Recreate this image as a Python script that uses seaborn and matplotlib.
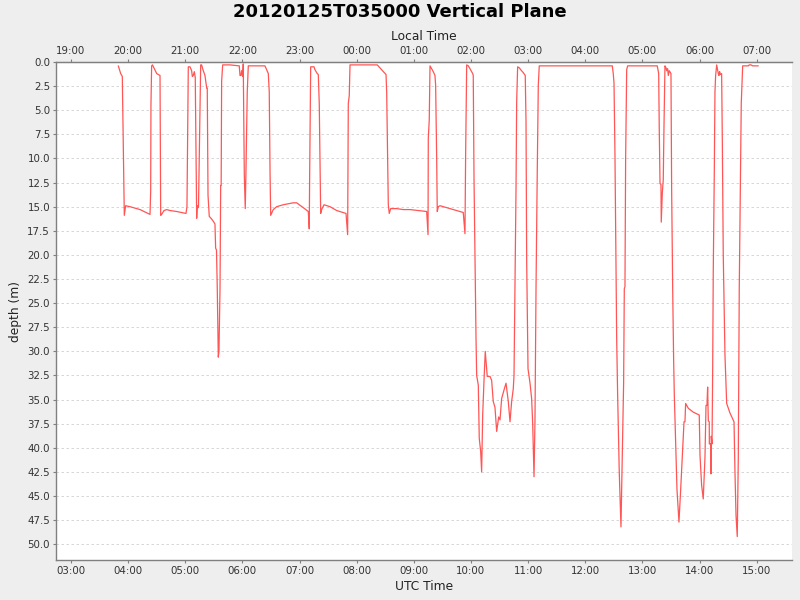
import numpy as np
import pandas as pd
import matplotlib
matplotlib.use("Agg")
import matplotlib.pyplot as plt
from matplotlib.ticker import FixedLocator, FuncFormatter
import seaborn as sns

# ---- data: time in minutes after 2012-01-25 00:00 UTC, depth in metres ----
utc_minutes = [
    229.7, 232.2, 233.9, 236.0, 237.4, 242.0, 252.5, 263.0, 263.7, 264.0, 264.7, 265.6,
    267.5, 270.0, 273.5, 274.2, 275.2, 277.7, 280.5, 284.0, 291.0, 300.8, 301.8, 302.1,
    302.9, 303.2, 305.0, 306.7, 307.4, 308.4, 309.5, 310.5, 311.3, 312.0, 312.6, 313.9,
    315.1, 316.2, 317.2, 318.6, 320.7, 322.5, 323.1, 323.9, 325.2, 327.0, 329.4, 331.2,
    331.9, 332.8, 333.6, 334.7, 335.4, 336.5, 337.2, 337.7, 338.2, 339.3, 347.0, 356.7,
    357.5, 358.5, 359.2, 360.3, 360.9, 362.0, 363.0, 363.8, 365.1, 366.2, 383.7, 385.5,
    387.2, 388.2, 389.0, 389.7, 392.4, 396.0, 402.9, 413.4, 417.0, 423.9, 429.2, 430.2,
    430.6, 431.7, 435.2, 436.2, 438.6, 439.7, 440.7, 441.5, 442.2, 443.2, 445.7, 452.0,
    459.0, 468.8, 470.5, 471.2, 472.2, 473.0, 501.6, 506.2, 510.8, 511.5, 512.5, 513.2,
    514.2, 515.7, 522.0, 528.9, 536.0, 553.5, 554.9, 555.2, 556.2, 557.0, 558.7, 560.4,
    562.2, 562.9, 564.0, 564.6, 565.7, 567.5, 578.0, 591.9, 593.7, 594.4, 595.5, 597.2,
    599.0, 601.8, 602.4, 603.2, 604.2, 605.3, 606.0, 607.7, 608.7, 610.2, 611.2, 612.3,
    613.7, 615.0, 616.5, 617.1, 620.0, 621.7, 623.4, 625.2, 627.0, 629.1, 630.5, 632.2,
    634.7, 636.8, 639.2, 641.0, 642.7, 644.4, 645.2, 646.2, 647.3, 648.0, 649.0, 650.7,
    652.2, 654.9, 657.0, 657.8, 658.5, 659.9, 662.0, 663.7, 664.8, 666.2, 667.2, 668.3,
    669.6, 670.7, 671.7, 748.4, 749.4, 750.2, 751.2, 752.3, 753.0, 754.0, 755.7, 757.5,
    758.9, 760.3, 761.0, 761.7, 762.4, 763.5, 764.5, 795.6, 797.1, 797.7, 798.5, 799.5,
    799.8, 800.9, 801.9, 802.7, 803.7, 804.8, 805.5, 806.5, 807.2, 808.2, 810.0, 810.7,
    811.8, 812.8, 813.5, 815.3, 816.3, 818.4, 820.2, 822.3, 823.7, 824.7, 825.4, 828.2,
    833.4, 839.7, 840.5, 842.2, 843.9, 845.7, 846.8, 847.8, 848.5, 849.2, 850.2, 850.3,
    851.7, 852.0, 852.3, 853.1, 853.8, 854.4, 855.5, 856.2, 856.9, 858.0, 859.0, 859.7,
    860.4, 861.1, 861.8, 863.2, 863.9, 864.9, 866.7, 868.5, 870.2, 872.0, 874.8, 876.2,
    877.2, 878.3, 879.6, 880.7, 881.7, 882.8, 883.8, 885.3, 891.2, 892.2, 894.0, 895.8,
    901.7,
]
depth_m = [
    0.4, 1.2, 1.5, 15.9, 14.9, 15.0, 15.3, 15.8, 13.4, 4.4, 0.4, 0.3,
    0.7, 1.2, 1.4, 15.9, 15.8, 15.4, 15.3, 15.4, 15.5, 15.7, 15.0, 12.0,
    3.0, 0.5, 0.5, 0.9, 1.5, 1.4, 1.0, 1.6, 10.0, 16.2, 14.9, 15.1,
    7.2, 0.3, 0.3, 0.8, 1.4, 2.7, 2.7, 13.8, 16.0, 16.2, 16.5, 16.8,
    19.3, 19.5, 23.4, 30.6, 30.0, 23.5, 12.8, 12.8, 2.0, 0.3, 0.3, 0.4,
    1.4, 1.4, 0.9, 1.5, 0.2, 11.7, 15.2, 11.0, 3.1, 0.4, 0.4, 0.8,
    1.2, 3.1, 11.2, 15.9, 15.3, 15.0, 14.8, 14.6, 14.6, 15.1, 15.5, 17.3,
    12.0, 0.5, 0.5, 0.8, 1.2, 1.3, 4.3, 10.0, 15.7, 15.3, 14.8, 15.0,
    15.4, 15.7, 17.9, 4.3, 3.5, 0.3, 0.3, 0.8, 1.3, 3.1, 9.6, 14.8,
    15.7, 15.2, 15.2, 15.3, 15.3, 15.5, 17.9, 7.9, 6.0, 0.4, 0.7, 1.0,
    1.4, 2.4, 10.0, 15.5, 15.0, 14.9, 15.2, 15.6, 17.8, 9.6, 0.3, 0.4,
    0.7, 1.2, 1.4, 12.1, 20.0, 28.7, 32.5, 33.5, 39.0, 40.4, 42.5, 36.6,
    33.0, 30.0, 31.8, 32.6, 32.6, 33.0, 35.2, 35.8, 38.3, 36.8, 37.1, 34.9,
    34.0, 33.3, 35.2, 37.3, 35.2, 33.9, 32.5, 23.5, 13.1, 4.1, 0.5, 0.6,
    0.8, 1.1, 1.4, 6.2, 20.7, 31.8, 33.3, 34.9, 37.5, 43.0, 37.3, 23.5,
    11.4, 2.4, 0.4, 0.4, 1.2, 2.2, 9.6, 20.7, 28.7, 34.5, 42.5, 48.2,
    41.0, 33.2, 23.5, 23.3, 10.0, 0.8, 0.4, 0.4, 1.2, 6.9, 12.6, 12.7,
    16.6, 13.6, 12.2, 6.5, 0.4, 0.6, 0.9, 0.7, 1.4, 0.9, 1.2, 13.1,
    23.5, 30.9, 34.5, 40.8, 44.3, 47.7, 44.3, 40.1, 37.3, 37.3, 35.4, 35.9,
    36.3, 36.6, 40.8, 43.9, 45.3, 41.0, 35.6, 35.6, 33.7, 37.2, 37.3, 39.6,
    39.6, 42.7, 38.8, 39.6, 31.8, 21.8, 11.4, 3.1, 1.4, 0.3, 0.8, 1.2,
    1.4, 1.0, 1.3, 1.2, 7.9, 20.0, 30.4, 35.4, 35.9, 36.4, 37.0, 37.3,
    42.5, 47.0, 49.2, 41.0, 23.5, 13.1, 4.3, 0.4, 0.4, 0.3, 0.3, 0.4,
    0.4,
]

title_text = "20120125T035000 Vertical Plane"
utc_tick_minutes = [180, 240, 300, 360, 420, 480, 540, 600, 660, 720, 780, 840, 900]
local_offset_hours = -8
y_ticks = [0.0, 2.5, 5.0, 7.5, 10.0, 12.5, 15.0, 17.5, 20.0, 22.5, 25.0, 27.5, 30.0,
           32.5, 35.0, 37.5, 40.0, 42.5, 45.0, 47.5, 50.0]

df = pd.DataFrame({"utc_min": utc_minutes, "depth": depth_m})

sns.set_style("white")
plt.rcParams["font.family"] = ["DejaVu Sans"]

bg = "#EEEEEE"
axis_gray = "#808080"
fig = plt.figure(figsize=(8, 6), dpi=100, facecolor=bg)
ax = fig.add_axes([56.3 / 800, 40 / 600, (792.3 - 56.3) / 800, (560 - 62) / 600])
ax.set_facecolor("white")

sns.lineplot(data=df, x="utc_min", y="depth", ax=ax, color="#FF5555",
             linewidth=0.9, estimator=None, sort=False)

ax.set_xlim(164.6, 937.4)
ax.set_ylim(51.63, 0.0)

def utc_fmt(v, pos=None):
    h = int(round(v)) // 60 % 24
    m = int(round(v)) % 60
    return f"{h:02d}:{m:02d}"

def local_fmt(v, pos=None):
    t = int(round(v)) + local_offset_hours * 60
    h = (t // 60) % 24
    m = t % 60
    return f"{h:02d}:{m:02d}"

ax.xaxis.set_major_locator(FixedLocator(utc_tick_minutes))
ax.xaxis.set_major_formatter(FuncFormatter(utc_fmt))
ax.yaxis.set_major_locator(FixedLocator(y_ticks))
ax.yaxis.set_major_formatter(FuncFormatter(lambda v, p: f"{v:.1f}"))

ax.grid(axis="y", color="#D0D0D0", linestyle=(0, (3, 3)), linewidth=0.6)
ax.grid(axis="x", visible=False)

tick_fs = 7.4
label_fs = 8.8
ax.tick_params(axis="both", direction="out", length=2.5, width=0.8, color=axis_gray,
               labelsize=tick_fs, labelcolor="#333333", pad=2, bottom=True, left=True)
ax.set_xlabel("UTC Time", fontsize=label_fs, color="#222222", labelpad=3)
ax.set_ylabel("depth (m)", fontsize=label_fs, color="#222222", labelpad=4)

for side in ["left", "bottom", "top"]:
    ax.spines[side].set_visible(True)
    ax.spines[side].set_color(axis_gray)
    ax.spines[side].set_linewidth(1.0)
ax.spines["right"].set_visible(False)

top = ax.twiny()
top.set_xlim(ax.get_xlim())
top.xaxis.set_major_locator(FixedLocator(utc_tick_minutes))
top.xaxis.set_major_formatter(FuncFormatter(local_fmt))
top.tick_params(axis="x", direction="out", length=2.5, width=0.8, color=axis_gray,
                labelsize=tick_fs, labelcolor="#333333", pad=2)
top.set_xlabel("Local Time", fontsize=label_fs, color="#222222", labelpad=4)
for side in ["left", "bottom", "right"]:
    top.spines[side].set_visible(False)
top.spines["top"].set_color(axis_gray)
top.grid(False)

fig.text(0.5, 1 - 12 / 600, title_text, ha="center", va="center",
         fontsize=13, fontweight="bold", color="black")

fig.savefig("out.png", dpi=100, facecolor=bg)
